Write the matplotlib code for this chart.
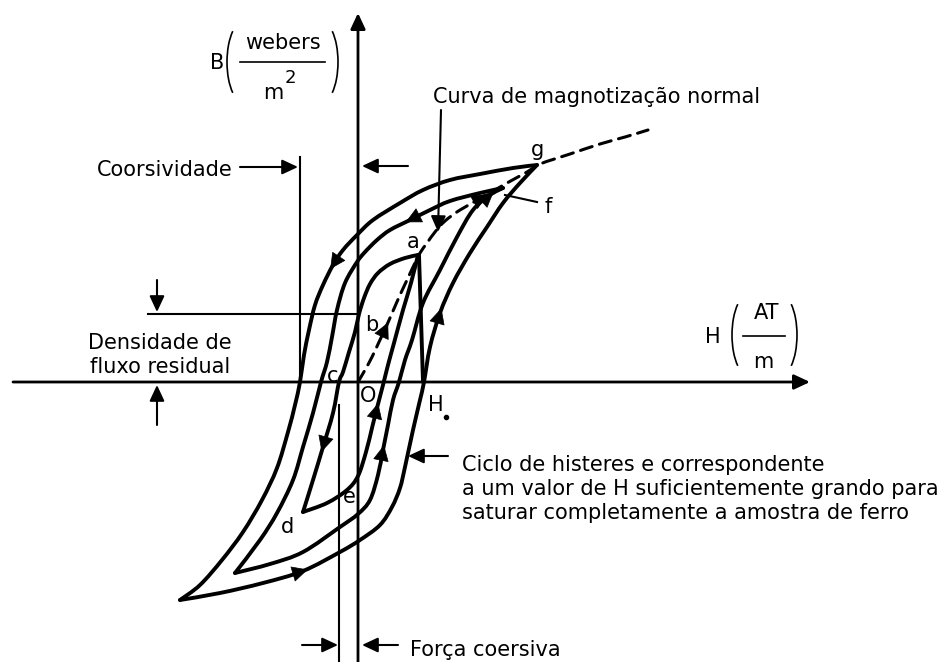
import numpy as np
import matplotlib.pyplot as plt
from matplotlib.patches import Arc, PathPatch
from matplotlib.path import Path

plt.rcParams['font.family'] = ['DejaVu Sans']
plt.rcParams['font.size'] = 15

# Ciclo de saturação (passa por g): ramo descendente e ramo ascendente
outer_desc_H = [179, 155, 122, 92, 65, 42, 15, -1, -15, -25, -35, -43, -49, -54, -58,
                -63, -70, -81, -96, -115, -136, -158, -178]
outer_desc_B = [217, 214, 208, 202, 192, 179, 162, 147, 132, 117, 97, 77, 52, 27, 0,
                -23, -50, -86, -118, -150, -178, -203, -218]
outer_asc_H = [-178, -138, -95, -55, -18, 2, 22, 34, 42, 47, 55, 62, 66, 72, 82, 95,
               112, 129, 145, 162, 179]
outer_asc_B = [-218, -211, -201, -189, -170, -158, -143, -125, -106, -85, -48, -18, 0,
               35, 69, 99, 129, 155, 179, 199, 217]

# Ciclo intermediário (ponta em f)
mid_desc_H = [145, 122, 92, 72, 52, 32, 19, 7, -1, -13, -21, -26, -31, -37, -45, -55,
              -65, -81, -98, -123]
mid_desc_B = [194, 189, 181, 172, 162, 152, 142, 130, 120, 99, 72, 45, 20, 0, -31, -65,
              -98, -131, -158, -191]
mid_asc_H = [-123, -88, -55, -18, 0, 12, 20, 25, 30, 35, 41, 47, 54, 65, 82, 99, 115,
             132, 145]
mid_asc_B = [-191, -182, -170, -145, -132, -118, -93, -68, -43, -18, 0, 22, 42, 79, 112,
             145, 172, 187, 194]

# Ciclo interno a-b-c-d-e-a
inner_desc_H = [60, 47, 32, 20, 12, 6, 1, -3, -9, -15, -19, -25, -35, -45, -55]
inner_desc_B = [127, 124, 118, 109, 98, 84, 68, 50, 30, 10, 0, -31, -65, -98, -130]
inner_asc_H = [-55, -31, -11, 0, 8, 14, 19, 25, 30, 36, 45, 53, 60]
inner_asc_B = [-130, -121, -108, -94, -70, -46, -26, -3, 17, 39, 72, 99, 127]

# queda vertical a partir de a
drop_H = [61, 65]
drop_B = [127, 0]

# curva de magnetização normal (tracejada), partindo de O
normal_H = [0, 7, 14, 21, 28, 35, 42, 49, 56, 62, 69, 77, 87, 102, 125, 149, 169, 182,
            212, 242, 267, 290]
normal_B = [0, 12, 25, 40, 55, 71, 87, 102, 117, 129, 139, 150, 161, 172, 185, 199, 210,
            218, 228, 238, 245, 252]

coerc_outer = -58   # coercividade do ciclo de saturação
coerc_inner = -19   # força coersiva do ciclo interno
resid_inner = 68    # densidade de fluxo residual (ponto b)

fig = plt.figure(figsize=(9.39, 6.62), dpi=100)
ax = fig.add_axes([0, 0, 1, 1])
ax.set_xlim(-358, 581)
ax.set_ylim(-280, 382)
ax.axis('off')

K = 'black'
LW_LOOP = 2.8
LW_THIN = 1.5


def curva(H, B, **kw):
    # traço suave passando por todos os pontos (Catmull-Rom em Bézier cúbica)
    P = np.column_stack([H, B]).astype(float)
    n = len(P)
    verts, codes = [P[0]], [Path.MOVETO]
    for i in range(n - 1):
        p0, p1, p2, p3 = P[max(i - 1, 0)], P[i], P[i + 1], P[min(i + 2, n - 1)]
        verts += [p1 + (p2 - p0) / 6, p2 - (p3 - p1) / 6, p2]
        codes += [Path.CURVE4] * 3
    ax.add_patch(PathPatch(Path(verts, codes), fill=False, color=K,
                           capstyle='round', joinstyle='round', **kw))


def seta(tail, tip, lw=LW_THIN, ms=16):
    ax.annotate('', xy=tip, xytext=tail,
                arrowprops=dict(arrowstyle='-|>,head_length=0.6,head_width=0.28',
                                color=K, lw=lw, mutation_scale=ms,
                                shrinkA=0, shrinkB=0))


def seta_curva(H, B, i, ms=15):
    # ponta de seta sobre o ponto i, no sentido do percurso
    p1 = np.array([H[i], B[i]], float)
    p0 = np.array([H[i - 1], B[i - 1]], float)
    d = (p1 - p0) / np.hypot(*(p1 - p0))
    ax.annotate('', xy=p1 + d * 5, xytext=p1 - d * 5,
                arrowprops=dict(arrowstyle='-|>,head_length=0.7,head_width=0.35',
                                color=K, lw=0.5, mutation_scale=ms,
                                shrinkA=0, shrinkB=0))


# eixos B e H
seta((0, -280), (0, 369), lw=2.0)
seta((-345, 0), (452, 0), lw=2.0)

# ciclos
for H, B in [(outer_desc_H, outer_desc_B), (outer_asc_H, outer_asc_B),
             (mid_desc_H, mid_desc_B), (mid_asc_H, mid_asc_B),
             (inner_desc_H, inner_desc_B), (inner_asc_H, inner_asc_B)]:
    curva(H, B, lw=LW_LOOP)
ax.plot(drop_H, drop_B, color=K, lw=LW_LOOP, solid_capstyle='round')

curva(normal_H, normal_B, lw=2.2, linestyle=(0, (4, 2.5)))

# setas de sentido sobre as curvas
seta_curva(outer_desc_H, outer_desc_B, 9)
seta_curva(outer_asc_H, outer_asc_B, 3)
seta_curva(outer_asc_H, outer_asc_B, 14)
seta_curva(mid_desc_H, mid_desc_B, 4)
seta_curva(mid_asc_H, mid_asc_B, 7)
seta_curva(mid_asc_H, mid_asc_B, 17)
seta_curva(inner_desc_H, inner_desc_B, 12)
seta_curva(inner_asc_H, inner_asc_B, 6)
seta_curva(normal_H, normal_B, 4)
seta_curva(normal_H, normal_B, 14)

# coercividade
ax.plot([coerc_outer, coerc_outer], [225, 0], color=K, lw=LW_THIN)
seta((-118, 215), (coerc_outer - 2, 215))
seta((50, 216), (4, 216))
ax.text(-261, 212, 'Coorsividade', ha='left', va='center')

# densidade de fluxo residual
ax.plot([-210, 0], [resid_inner, resid_inner], color=K, lw=LW_THIN)
seta((-201, 102), (-201, resid_inner + 2))
seta((-201, -43), (-201, -3))
ax.text(-198, 27, 'Densidade de\nfluxo residual', ha='center', va='center',
        linespacing=1.22)

# força coersiva
ax.plot([coerc_inner, coerc_inner], [-23, -280], color=K, lw=LW_THIN)
seta((-56, -263), (coerc_inner - 1, -263))
seta((40, -263), (4, -263))
ax.text(52, -268, 'Força coersiva', ha='left', va='center')

# curva de magnetização normal
ax.text(75, 285, 'Curva de magnotização normal', ha='left', va='center')
seta((83, 272), (80, 150))

# ciclo de histerese de saturação
seta((90, -74), (50, -74))
ax.text(104, -107, 'Ciclo de histeres e correspondente\n'
        'a um valor de H suficientemente grando para\n'
        'saturar completamente a amostra de ferro',
        ha='left', va='center', linespacing=1.28)

# ponto f
ax.plot([179, 147], [180, 187], color=K, lw=LW_THIN)

# rótulo do eixo B
ax.text(-141, 319, 'B', ha='center', va='center')
ax.text(-75, 339, 'webers', ha='center', va='center')
ax.plot([-118, -33], [320, 320], color=K, lw=1.2)
ax.text(-85, 289, 'm', ha='center', va='center')
ax.text(-68, 304, '2', ha='center', va='center', fontsize=13)
ax.add_patch(Arc((-114, 320), 34, 82, theta1=110, theta2=250, color=K, lw=1.2))
ax.add_patch(Arc((-37, 320), 34, 82, theta1=-70, theta2=70, color=K, lw=1.2))

# rótulo do eixo H
ax.text(355, 45, 'H', ha='center', va='center')
ax.text(409, 69, 'AT', ha='center', va='center')
ax.plot([385, 427], [46, 46], color=K, lw=1.2)
ax.text(405, 20, 'm', ha='center', va='center')
ax.add_patch(Arc((391, 47), 34, 82, theta1=110, theta2=250, color=K, lw=1.2))
ax.add_patch(Arc((422, 47), 34, 82, theta1=-70, theta2=70, color=K, lw=1.2))

# letras dos pontos
for s, h, b in [('g', 179, 232), ('f', 190, 175), ('a', 55, 140), ('b', 14, 57),
                ('c', -25, 6), ('O', 10, -14), ('d', -71, -145), ('e', -9, -115),
                ('H', 78, -23)]:
    ax.text(h, b, s, ha='center', va='center')
ax.plot([88], [-35], 'o', color=K, ms=3)

fig.savefig('out.png', dpi=100)
